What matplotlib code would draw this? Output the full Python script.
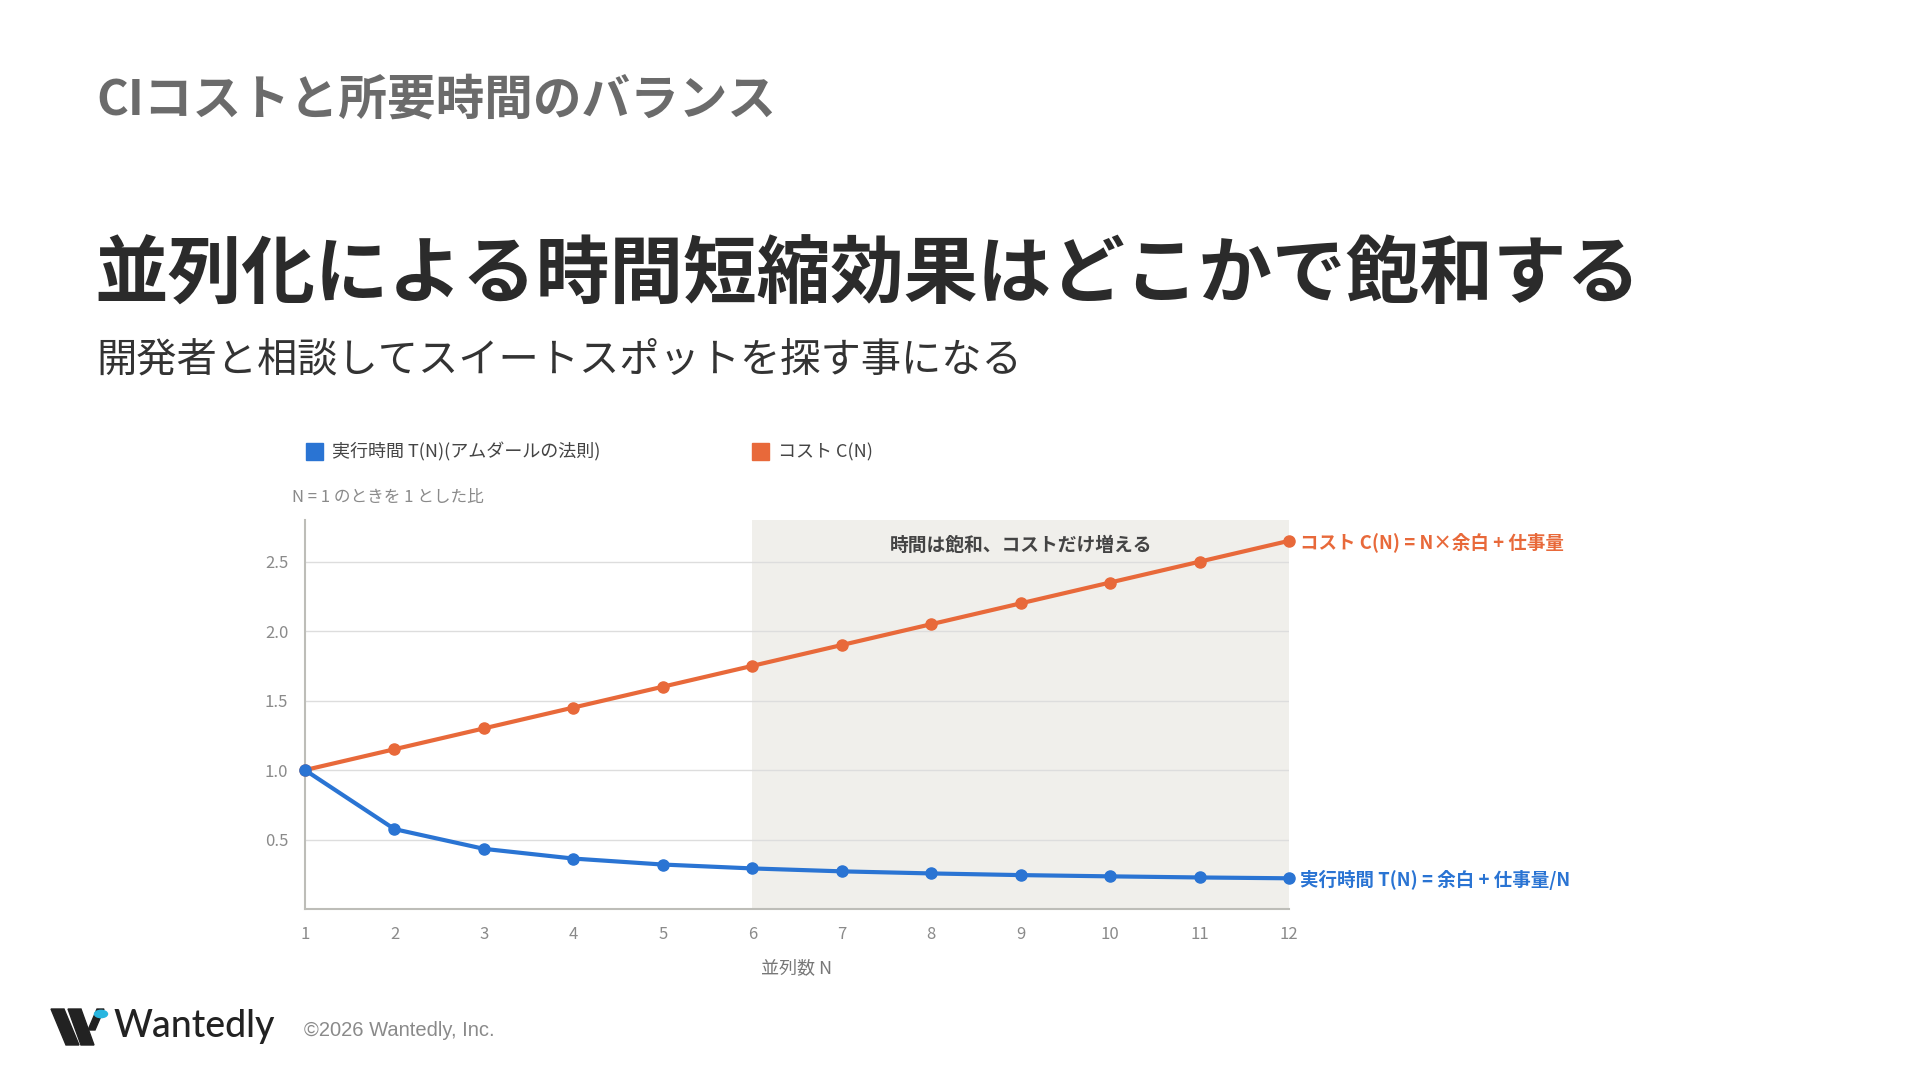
import matplotlib
matplotlib.use('Agg')
import matplotlib.pyplot as plt
from matplotlib.patches import Polygon, Circle, Rectangle

plt.rcParams['font.family'] = ['Noto Sans CJK JP', 'DejaVu Sans']

# data
n_values = [1, 2, 3, 4, 5, 6, 7, 8, 9, 10, 11, 12]
time_ratio = [1.0, 0.575, 0.433, 0.363, 0.32, 0.292, 0.271, 0.256, 0.244, 0.235, 0.227, 0.221]
cost_ratio = [1.0, 1.15, 1.3, 1.45, 1.6, 1.75, 1.9, 2.05, 2.2, 2.35, 2.5, 2.65]
y_ticks = [0.5, 1.0, 1.5, 2.0, 2.5]
saturation_start = 6

BLUE = '#2a74d3'
ORANGE = '#e8693a'
GRAY_TXT = '#8a8a8a'

fig = plt.figure(figsize=(19.2, 10.8), dpi=100)
fig.patch.set_facecolor('white')

# header texts
fig.text(96 / 1920, 1 - 100 / 1080, 'CIコストと所要時間のバランス', fontsize=35,
         fontweight='bold', color='#6b6b6b', va='center', ha='left')
fig.text(94 / 1920, 1 - 276 / 1080, '並列化による時間短縮効果はどこかで飽和する', fontsize=53,
         fontweight='bold', color='#2b2b2b', va='center', ha='left')
fig.text(96 / 1920, 1 - 360 / 1080, '開発者と相談してスイートスポットを探す事になる', fontsize=29,
         color='#333333', va='center', ha='left')

# legend
fig.patches.append(Rectangle((306 / 1920, 1 - 460 / 1080), 17 / 1920, 17 / 1080,
                             transform=fig.transFigure, color=BLUE, figure=fig))
fig.text(332 / 1920, 1 - 452 / 1080, '実行時間 T(N)(アムダールの法則)', fontsize=13,
         color='#444444', va='center')
fig.patches.append(Rectangle((752 / 1920, 1 - 460 / 1080), 17 / 1920, 17 / 1080,
                             transform=fig.transFigure, color=ORANGE, figure=fig))
fig.text(778 / 1920, 1 - 452 / 1080, 'コスト C(N)', fontsize=13,
         color='#444444', va='center')
fig.text(292 / 1920, 1 - 497 / 1080, 'N = 1 のときを 1 とした比', fontsize=12,
         color=GRAY_TXT, va='center')

# chart
ax = fig.add_axes([305 / 1920, 1 - 909 / 1080, 984 / 1920, 389 / 1080])
ax.set_xlim(n_values[0], n_values[-1])
ax.set_ylim(0, 2.8)
ax.axvspan(saturation_start, n_values[-1], color='#f0efeb', zorder=0, lw=0)
for y in y_ticks:
    ax.axhline(y, color='#dddddd', lw=1, zorder=1)

ax.plot(n_values, cost_ratio, color=ORANGE, lw=3, marker='o', ms=8, zorder=3, clip_on=False)
ax.plot(n_values, time_ratio, color=BLUE, lw=3, marker='o', ms=8, zorder=3, clip_on=False)

for side in ['top', 'right']:
    ax.spines[side].set_visible(False)
for side in ['left', 'bottom']:
    ax.spines[side].set_color('#bdbdb8')
    ax.spines[side].set_linewidth(1.5)

ax.set_xticks(n_values)
ax.set_yticks(y_ticks)
ax.set_yticklabels([f'{v:.1f}' for v in y_ticks])
ax.tick_params(length=0, labelsize=12, colors=GRAY_TXT, pad=12)
ax.tick_params(axis='y', pad=12)
ax.set_xlabel('並列数 N', fontsize=13, color='#777777', labelpad=12)

ax.text(9, 2.62, '時間は飽和、コストだけ増える', fontsize=13.5, fontweight='bold',
        color='#444444', ha='center', va='center')
ax.annotate('コスト C(N) = N×余白 + 仕事量', (n_values[-1], cost_ratio[-1]),
            xytext=(8, -1), textcoords='offset points', fontsize=13.3, fontweight='bold',
            color=ORANGE, va='center', ha='left', annotation_clip=False)
ax.annotate('実行時間 T(N) = 余白 + 仕事量/N', (n_values[-1], time_ratio[-1]),
            xytext=(8, -1), textcoords='offset points', fontsize=13.3, fontweight='bold',
            color=BLUE, va='center', ha='left', annotation_clip=False)

# footer logo
def px(x, y):
    return (x / 1920, 1 - y / 1080)

mark = [
    [px(51, 1009), px(64, 1009), px(79, 1045), px(66, 1045)],
    [px(68, 1009), px(81, 1009), px(94, 1045), px(81, 1045)],
    [px(88, 1030), px(97, 1009), px(104, 1009), px(95, 1030)],
]
for pts in mark:
    fig.patches.append(Polygon(pts, closed=True, transform=fig.transFigure,
                               color='#222222', figure=fig))
fig.patches.append(Circle(px(101, 1014), 6.5 / 1920, transform=fig.transFigure,
                          color='#29b6e0', figure=fig))
fig.text(113 / 1920, 1 - 1027 / 1080, 'Wantedly', fontsize=27, color='#222222',
         family=['Lato', 'DejaVu Sans'], fontweight='medium', va='center', ha='left')
fig.text(304 / 1920, 1 - 1031 / 1080, '©2026 Wantedly, Inc.', fontsize=14.5,
         color='#8a8a8a', family=['Liberation Sans', 'DejaVu Sans'], va='center', ha='left')

fig.savefig('out.png', dpi=100, facecolor='white')
